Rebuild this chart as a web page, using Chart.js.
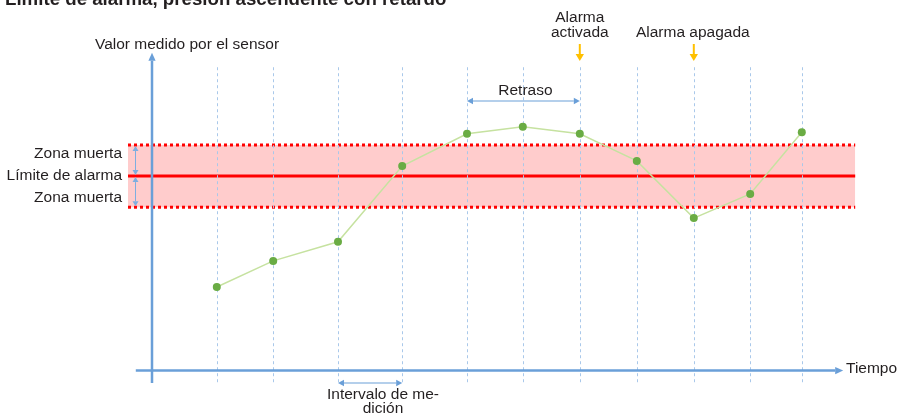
<!DOCTYPE html>
<html>
<head>
<meta charset="utf-8">
<script src="https://cdn.jsdelivr.net/npm/chart.js@4"></script>
<style>
  html, body { margin: 0; padding: 0; background: #fff; }
  #wrap { width: 902px; height: 418px; }
</style>
</head>
<body>
<div id="wrap"><canvas id="alarmChart" width="902" height="418"></canvas></div>
<script>
// sample times (measurement intervals) and measured sensor values
var sampleTimes = [1.08, 2.02, 3.10, 4.17, 5.25, 6.18, 7.13, 8.08, 9.03, 9.97, 10.83];
var measured = [21.5, 28.2, 33.1, 52.6, 60.9, 62.7, 60.9, 53.9, 39.2, 45.4, 61.3];

// alarm limit and dead zone
var alarmLimit = 50;
var deadZone = 8;
var bandRange = [-0.4, 11.72];

// axis extents
var timeAxis = [-0.27, 11.52];
var valueAxis = [-3.2, 81.7];

// indexes of special samples
var alarmOnIdx = 6;
var alarmOffIdx = 8;
var delayFromIdx = 4;

var FONT = '"Liberation Sans", Arial, Helvetica, sans-serif';
var TEXT = '#231f20';
var BLUE = '#6a9fd8';

function arrow(ctx, x1, y1, x2, y2, color, width, head, both, spread) {
  spread = spread || 0.45;
  ctx.save();
  ctx.strokeStyle = color;
  ctx.fillStyle = color;
  ctx.lineWidth = width;
  ctx.setLineDash([]);
  var a = Math.atan2(y2 - y1, x2 - x1);
  ctx.beginPath();
  ctx.moveTo(x1 + (both ? Math.cos(a) * head : 0), y1 + (both ? Math.sin(a) * head : 0));
  ctx.lineTo(x2 - Math.cos(a) * head, y2 - Math.sin(a) * head);
  ctx.stroke();
  function tip(x, y, ang) {
    ctx.beginPath();
    ctx.moveTo(x, y);
    ctx.lineTo(x - head * Math.cos(ang) + head * spread * Math.sin(ang), y - head * Math.sin(ang) - head * spread * Math.cos(ang));
    ctx.lineTo(x - head * Math.cos(ang) - head * spread * Math.sin(ang), y - head * Math.sin(ang) + head * spread * Math.cos(ang));
    ctx.closePath();
    ctx.fill();
  }
  tip(x2, y2, a);
  if (both) tip(x1, y1, a + Math.PI);
  ctx.restore();
}

function text(ctx, s, x, y, align, font) {
  ctx.save();
  ctx.font = font || ('15.5px ' + FONT);
  ctx.fillStyle = TEXT;
  ctx.textAlign = align || 'left';
  ctx.textBaseline = 'alphabetic';
  ctx.fillText(s, x, y);
  ctx.restore();
}

var diagramPlugin = {
  id: 'diagram',
  beforeDatasetDraw: function (chart, args) {
    if (args.index !== 0) return;
    var ctx = chart.ctx, xs = chart.scales.x, ys = chart.scales.y;
    // vertical dashed measurement lines
    ctx.save();
    ctx.strokeStyle = '#a9c8ea';
    ctx.lineWidth = 1;
    ctx.setLineDash([3, 3]);
    sampleTimes.forEach(function (t) {
      var px = Math.round(xs.getPixelForValue(t)) + 0.5;
      ctx.beginPath();
      ctx.moveTo(px, ys.getPixelForValue(78));
      ctx.lineTo(px, ys.getPixelForValue(valueAxis[0]));
      ctx.stroke();
    });
    ctx.restore();
    // axes
    var x0 = xs.getPixelForValue(0), y0 = ys.getPixelForValue(0);
    arrow(ctx, x0, ys.getPixelForValue(valueAxis[0]), x0, ys.getPixelForValue(valueAxis[1]), BLUE, 2.5, 8, false);
    arrow(ctx, xs.getPixelForValue(timeAxis[0]), y0, xs.getPixelForValue(timeAxis[1]), y0, BLUE, 2.5, 8, false);
  },
  afterDraw: function (chart) {
    var ctx = chart.ctx, xs = chart.scales.x, ys = chart.scales.y;
    var yUp = ys.getPixelForValue(alarmLimit + deadZone);
    var yLim = ys.getPixelForValue(alarmLimit);
    var yLo = ys.getPixelForValue(alarmLimit - deadZone);
    // dead zone arrows
    arrow(ctx, 135.5, yUp + 1, 135.5, yLim - 1, '#7eaee0', 1, 5, true, 0.6);
    arrow(ctx, 135.5, yLim + 1, 135.5, yLo - 1, '#7eaee0', 1, 5, true, 0.6);

    var xOn = xs.getPixelForValue(sampleTimes[alarmOnIdx]);
    var xOff = xs.getPixelForValue(sampleTimes[alarmOffIdx]);
    var xDelay = xs.getPixelForValue(sampleTimes[delayFromIdx]);
    // delay arrow
    arrow(ctx, xDelay, 101, xOn, 101, BLUE, 1.2, 6, true, 0.55);
    text(ctx, 'Retraso', (xDelay + xOn) / 2 + 2, 95, 'center');
    // alarm arrows
    arrow(ctx, xOn, 44, xOn, 61, '#ffc000', 2, 7, false, 0.6);
    arrow(ctx, xOff, 44, xOff, 61, '#ffc000', 2, 7, false, 0.6);
    text(ctx, 'Alarma', xOn, 22, 'center');
    text(ctx, 'activada', xOn, 37, 'center');
    text(ctx, 'Alarma apagada', xOff - 1, 37, 'center');
    // measuring interval
    var xi1 = xs.getPixelForValue(sampleTimes[2]), xi2 = xs.getPixelForValue(sampleTimes[3]);
    arrow(ctx, xi1, 383, xi2, 383, BLUE, 1.2, 6, true, 0.55);
    text(ctx, 'Intervalo de me-', 383, 399, 'center');
    text(ctx, 'dición', 383, 413, 'center');
    // axis labels
    text(ctx, 'Valor medido por el sensor', 95, 49, 'left');
    text(ctx, 'Tiempo', 846, 373, 'left');
    text(ctx, 'Zona muerta', 122, 158, 'right');
    text(ctx, 'Límite de alarma', 122, 180, 'right');
    text(ctx, 'Zona muerta', 122, 202, 'right');
    // title (cut at top edge)
    text(ctx, 'Límite de alarma, presión ascendente con retardo', 5, 5, 'left', 'bold 18.7px ' + FONT);
  }
};

function bandLine(v) {
  return [{ x: bandRange[0], y: v }, { x: bandRange[1], y: v }];
}

var ctx = document.getElementById('alarmChart').getContext('2d');
var chart = new Chart(ctx, {
  type: 'scatter',
  data: {
    datasets: [
      {
        label: 'Valor medido',
        data: sampleTimes.map(function (t, i) { return { x: t, y: measured[i] }; }),
        showLine: true,
        borderColor: '#c6e2a0',
        borderWidth: 1.5,
        pointRadius: 4,
        pointBackgroundColor: '#6aac44',
        pointBorderColor: '#6aac44',
        pointBorderWidth: 0,
        order: 0
      },
      {
        label: 'Límite de alarma',
        data: bandLine(alarmLimit),
        showLine: true,
        borderColor: '#ff0000',
        borderWidth: 3,
        pointRadius: 0,
        order: 1
      },
      {
        label: 'Zona muerta sup',
        data: bandLine(alarmLimit + deadZone),
        showLine: true,
        borderColor: '#ff0000',
        borderWidth: 3,
        borderDash: [3, 3],
        pointRadius: 0,
        fill: 3,
        backgroundColor: 'rgba(255, 0, 0, 0.2)',
        order: 2
      },
      {
        label: 'Zona muerta inf',
        data: bandLine(alarmLimit - deadZone),
        showLine: true,
        borderColor: '#ff0000',
        borderWidth: 3,
        borderDash: [3, 3],
        pointRadius: 0,
        order: 3
      }
    ]
  },
  options: {
    responsive: false,
    animation: false,
    layout: { padding: { left: 122, right: 30, top: 40, bottom: 28 }, autoPadding: false },
    scales: {
      x: { type: 'linear', min: -0.5, max: 12, display: false },
      y: { type: 'linear', min: -5, max: 85, display: false }
    },
    plugins: {
      legend: { display: false },
      tooltip: { enabled: false }
    }
  },
  plugins: [diagramPlugin]
});
</script>
</body>
</html>
